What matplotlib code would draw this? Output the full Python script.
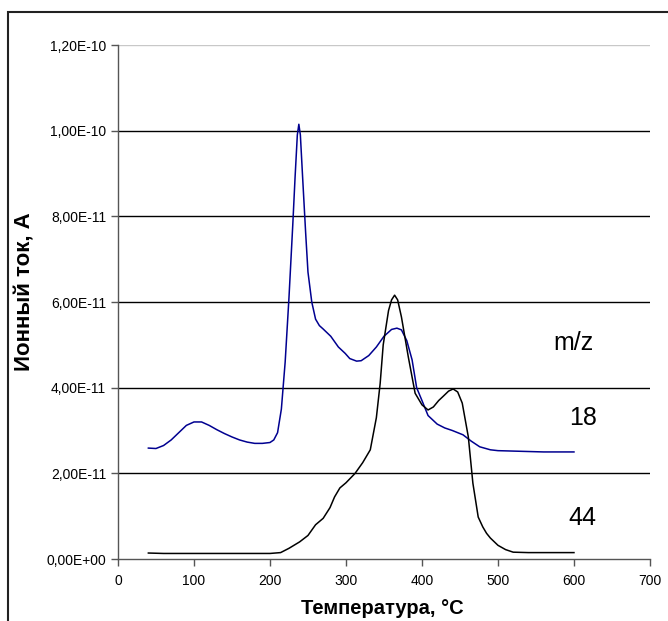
#!/usr/bin/env python3

import matplotlib
matplotlib.use('Agg')
import matplotlib.pyplot as plt
from matplotlib.patches import Rectangle

plt.rcParams['font.family'] = ['Liberation Sans', 'DejaVu Sans']

# ------- DATA ------- #

# m/z 18 (blue)
t18 = [40, 50, 60, 70, 80, 90, 100, 110, 120, 130, 140, 150, 160, 170, 180, 190, 200,
       205, 210, 215, 220, 225, 230, 233, 236, 238, 240, 243, 247, 250, 255, 260, 265,
       270, 280, 290, 299, 305, 314, 320, 330, 340, 350, 360, 367, 373, 380, 387, 393,
       400, 408, 420, 430, 440, 454, 465, 476, 490, 500, 520, 540, 560, 580, 600]
i18 = [2.59, 2.58, 2.65, 2.78, 2.95, 3.12, 3.20, 3.20, 3.12, 3.02, 2.93, 2.85, 2.78,
       2.73, 2.70, 2.70, 2.72, 2.78, 2.95, 3.50, 4.60, 6.10, 7.80, 8.90, 9.90, 10.15,
       9.90, 8.90, 7.60, 6.70, 6.00, 5.60, 5.45, 5.37, 5.20, 4.95, 4.80, 4.68, 4.62,
       4.63, 4.75, 4.95, 5.20, 5.36, 5.39, 5.35, 5.10, 4.65, 4.00, 3.70, 3.35, 3.15,
       3.06, 3.00, 2.90, 2.75, 2.62, 2.55, 2.53, 2.52, 2.51, 2.50, 2.50, 2.50]

# m/z 44 (black)
t44 = [40, 60, 80, 100, 120, 140, 160, 180, 200, 214, 225, 239, 250, 260, 270, 279,
       285, 292, 300, 312, 322, 332, 340, 345, 349, 356, 360, 364, 368, 373, 382, 391,
       400, 408, 415, 422, 428, 435, 441, 447, 453, 461, 467, 474, 480, 485, 490, 500,
       510, 520, 540, 560, 580, 600]
i44 = [0.14, 0.13, 0.13, 0.13, 0.13, 0.13, 0.13, 0.13, 0.13, 0.15, 0.25, 0.40, 0.55,
       0.80, 0.95, 1.20, 1.45, 1.66, 1.78, 2.00, 2.25, 2.55, 3.30, 4.10, 5.00, 5.80,
       6.05, 6.16, 6.05, 5.65, 4.72, 3.87, 3.60, 3.48, 3.55, 3.70, 3.80, 3.92, 3.97,
       3.90, 3.64, 2.85, 1.77, 0.98, 0.75, 0.60, 0.49, 0.32, 0.22, 0.16, 0.15, 0.15,
       0.15, 0.15]

scale = 1e-11
yticks = [0, 2e-11, 4e-11, 6e-11, 8e-11, 1e-10, 1.2e-10]
ytick_labels = ['0,00E+00', '2,00E-11', '4,00E-11', '6,00E-11', '8,00E-11',
                '1,00E-10', '1,20E-10']
xticks = [0, 100, 200, 300, 400, 500, 600, 700]

# ------- PLOT ------- #

fig = plt.figure(figsize=(6.68, 6.21), dpi=100)
ax = fig.add_axes([0.1766, 0.0998, 0.7964, 0.8277])

for y in yticks[1:]:
    c = '#c8c8c8' if y == yticks[-1] else 'black'
    ax.axhline(y, color=c, lw=1.0, zorder=1)

ax.plot(t18, [v * scale for v in i18], color='#000090', lw=1.1, zorder=3)
ax.plot(t44, [v * scale for v in i44], color='black', lw=1.1, zorder=3)

ax.text(599, 5.04e-11, 'm/z', fontsize=18, ha='center', va='center')
ax.text(612, 3.3e-11, '18', fontsize=18, ha='center', va='center')
ax.text(611, 0.96e-11, '44', fontsize=18, ha='center', va='center')

ax.set_xlim(0, 700)
ax.set_ylim(0, 1.2e-10)
ax.set_xticks(xticks)
ax.set_yticks(yticks)
ax.set_yticklabels(ytick_labels)
ax.tick_params(labelsize=10, length=5, width=1, color='#555555', direction='out')
ax.tick_params(axis='x', pad=6)

for s in ['top', 'right']:
    ax.spines[s].set_visible(False)
for s in ['left', 'bottom']:
    ax.spines[s].set_color('#555555')
    ax.spines[s].set_linewidth(1)

fig.text(382 / 668, 1 - 608 / 621, 'Температура, °C', fontsize=14.5,
         fontweight='bold', ha='center', va='center')
fig.text(25 / 668, 1 - 292 / 621, 'Ионный ток, А', fontsize=16, fontweight='bold',
         rotation=90, ha='center', va='center')

# outer frame like the original sheet
fig.patches.append(Rectangle((8 / 668, -0.05), 1.2, 1 - 12 / 621 + 0.05,
                             transform=fig.transFigure, fill=False,
                             edgecolor='#222222', lw=1.5))

plt.savefig('out.png', dpi=100)
